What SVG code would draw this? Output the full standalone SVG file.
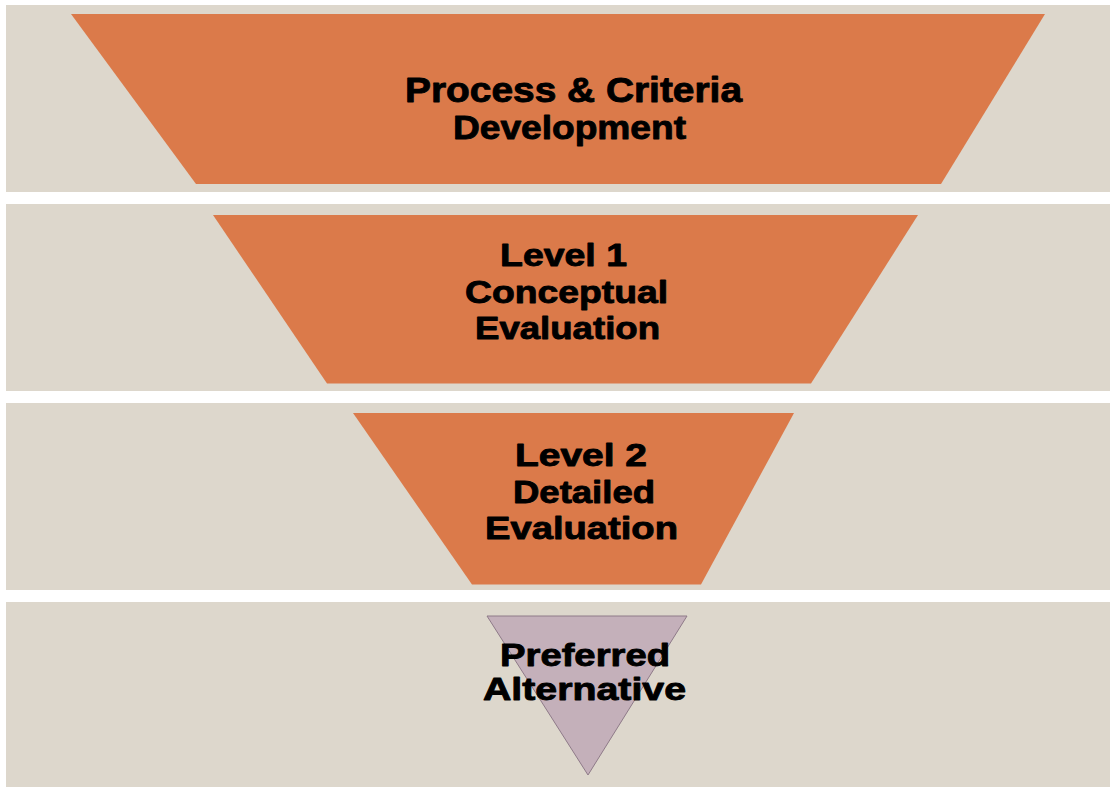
<svg xmlns="http://www.w3.org/2000/svg" width="1110" height="788" viewBox="0 0 1110 788">
<style>
.band{fill:#ddd7cc}
.stage{fill:#db7a4a}
.final{fill:#c4b0ba;stroke:#8e7a88;stroke-width:1}
.lbl{font-family:"Liberation Sans",Arial,sans-serif;font-weight:bold;fill:#000;stroke:#000;stroke-width:0.9;stroke-linejoin:round}
</style>
<rect width="1110" height="788" fill="#ffffff"/>
<g id="bands">
<rect class="band" x="6" y="5" width="1104" height="187"/>
<rect class="band" x="6" y="204" width="1104" height="187"/>
<rect class="band" x="6" y="403" width="1104" height="187"/>
<rect class="band" x="6" y="602" width="1104" height="185"/>
</g>
<g id="node-process">
<polygon class="stage" points="71,14 1045,14 941,184 196,184"/>
<text class="lbl" font-size="35" x="405" y="101.5" textLength="337" lengthAdjust="spacingAndGlyphs">Process &amp; Criteria</text>
<text class="lbl" font-size="34" x="453" y="138.5" textLength="233" lengthAdjust="spacingAndGlyphs">Development</text>
</g>
<g id="node-level1">
<polygon class="stage" points="213,215 918,215 811,383.5 327,383.5"/>
<text class="lbl" font-size="32" x="500" y="266" textLength="127" lengthAdjust="spacingAndGlyphs">Level 1</text>
<text class="lbl" font-size="32" x="465" y="302.5" textLength="203" lengthAdjust="spacingAndGlyphs">Conceptual</text>
<text class="lbl" font-size="32" x="475" y="338.5" textLength="185" lengthAdjust="spacingAndGlyphs">Evaluation</text>
</g>
<g id="node-level2">
<polygon class="stage" points="353,413 794,413 701,584.5 472,584.5"/>
<text class="lbl" font-size="32" x="515" y="466" textLength="132" lengthAdjust="spacingAndGlyphs">Level 2</text>
<text class="lbl" font-size="32" x="513" y="502.5" textLength="142" lengthAdjust="spacingAndGlyphs">Detailed</text>
<text class="lbl" font-size="32" x="485" y="538.5" textLength="193" lengthAdjust="spacingAndGlyphs">Evaluation</text>
</g>
<g id="node-preferred">
<polygon class="final" points="487,616 687,616 588,775"/>
<text class="lbl" font-size="32" x="500" y="666" textLength="170" lengthAdjust="spacingAndGlyphs">Preferred</text>
<text class="lbl" font-size="32" x="483" y="700" textLength="203" lengthAdjust="spacingAndGlyphs">Alternative</text>
</g>
<g id="connectors"></g>
</svg>
